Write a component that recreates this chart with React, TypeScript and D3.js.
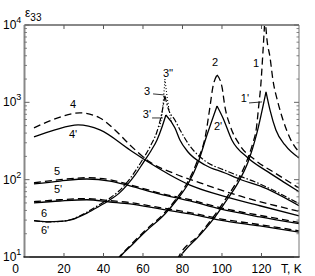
import React from "react";
import * as d3 from "d3";

type P = [number, number];

const W = 315;
const H = 276;
const PLOT = { left: 24.5, right: 299, top: 25, bottom: 257 };

const T_DOMAIN: [number, number] = [0, 139];
const EPS_DOMAIN: [number, number] = [10, 10000];
const xTickValues = [0, 20, 40, 60, 80, 100, 120];
const yDecades = [10, 100, 1000, 10000];
const yDecadeExps = ["1", "2", "3", "4"];

// curve 1 (dashed) and 1' (solid)
const c1Dashed: P[] = [[77.3, 9.2], [78, 10], [88.5, 19.5], [96, 34], [102, 57], [107.6, 95], [112.7, 178], [115.5, 290], [117.5, 480], [118.6, 900], [119.6, 1600], [120.7, 4300], [121.8, 13000], [122.8, 6410], [124.3, 3860], [125.8, 1950], [128.4, 982], [130.9, 592], [134.4, 346], [139, 228]];
const c1Solid: P[] = [[77.8, 9.2], [78.7, 10], [88.9, 19.3], [96.5, 33], [102.5, 55], [108.1, 91], [113.2, 169], [117.7, 402], [122.3, 1365], [124.3, 798], [127.3, 440], [131.9, 281], [139, 191]];
// curve 2 (dashed) and 2' (solid)
const c2Dashed: P[] = [[47, 9.3], [48, 10], [54, 14.5], [60.7, 21.5], [70.8, 37], [76.9, 57], [82.5, 92], [87.4, 172], [91.8, 390], [93.9, 871], [95.4, 1580], [97.5, 2260], [100, 1580], [101.5, 871], [104, 510], [109, 281], [116.7, 180], [126.8, 122], [139, 78]];
const c2Solid: P[] = [[47.5, 9.3], [48.4, 10], [54.4, 14.3], [61, 21], [71.1, 36], [77.2, 55], [82.8, 88], [87.8, 164], [92.4, 378], [97.5, 898], [100.5, 628], [105, 326], [113.2, 191], [123.3, 126], [131.9, 91], [139, 70]];
// curve 3 (dash-dot), 3' (solid, = 6' at low T), 3'' (dotted)
const c3Dashed: P[] = [[4.8, 29.5], [11.4, 28.5], [18, 28.8], [24, 30.8], [31.6, 38], [37, 46], [43.3, 58], [48, 72], [51.9, 92], [56, 128], [60, 185], [64, 280], [67.1, 420], [69.5, 720], [71.1, 1211], [73, 800], [76, 600], [79, 430], [83, 290], [91.4, 175], [101.5, 132], [119.2, 88], [139, 49]];
const c3Solid: P[] = [[4.8, 29.5], [11.4, 28.5], [18, 28.8], [24, 30.5], [31.6, 37], [37, 44], [43.3, 55], [48, 67], [51.9, 85], [56, 115], [60, 164], [64, 235], [67.1, 326], [69.5, 470], [71.6, 687], [76.2, 467], [78.7, 326], [82.8, 228], [91.4, 155], [101.5, 122], [110, 99], [119.2, 83], [139, 46]];
const c3Dotted: P[] = [[68.5, 480], [69.6, 700], [70.5, 1200], [71.1, 2000], [72, 1300], [73.2, 800], [74.5, 560]];
// curve 4 (dashed) and 4' (solid)
const c4Dashed: P[] = [[4.8, 467], [15.4, 610], [28.1, 730], [38.2, 628], [45.8, 440], [53.4, 281], [63.5, 169], [76.2, 119], [88.9, 91], [109.1, 61.5], [139, 39]];
const c4Solid: P[] = [[4.8, 357], [15.4, 440], [27.1, 510], [38.2, 440], [53.4, 242], [63.5, 164], [73.7, 115], [83.8, 85], [99, 63], [119.2, 46], [139, 34]];
// curve 5 (dashed) and 5' (solid)
const c5Dashed: P[] = [[4.8, 91], [18, 100], [31.6, 106], [43.3, 100], [53.4, 86], [68.6, 67], [83.8, 55], [99, 43.5], [119.2, 34.5], [139, 28]];
const c5Solid: P[] = [[4.8, 88], [18, 96], [31.6, 102], [43.3, 96], [53.4, 83], [68.6, 65], [83.8, 53], [99, 41.8], [119.2, 33], [139, 27]];
// curve 6 (dashed and solid)
const c6Dashed: P[] = [[4.8, 52], [18, 55], [31.6, 57], [43.3, 53.5], [53.4, 50.5], [68.6, 43.5], [83.8, 37.5], [99, 31.2], [119.2, 26.2], [139, 21.8]];
const c6Solid: P[] = [[4.8, 50], [18, 53], [31.6, 55], [43.3, 51.4], [53.4, 48.5], [68.6, 41.8], [83.8, 36], [99, 30], [119.2, 25.2], [139, 21]];

const curveLabels: { text: string; t: number; e: number }[] = [
  { text: "4", t: 24.6, e: 847 },
  { text: "4'", t: 24.6, e: 346 },
  { text: "5", t: 16.5, e: 115 },
  { text: "5'", t: 17, e: 67 },
  { text: "6", t: 9.9, e: 33 },
  { text: "6'", t: 10.4, e: 19.9 },
  { text: "3''", t: 72.7, e: 2133 },
  { text: "3", t: 62, e: 1248 },
  { text: "3'", t: 62, e: 628 },
  { text: "2", t: 96.5, e: 2960 },
  { text: "2'", t: 98, e: 440 },
  { text: "1", t: 117.2, e: 2870 },
  { text: "1'", t: 111.6, e: 1012 },
];
const leaders: [P, P][] = [
  [[65.1, 1285], [70.7, 1248]],
  [[64.6, 628], [70.1, 628]],
  [[113.7, 982], [120.3, 1012]],
];

const FONT = "'Liberation Sans', Arial, Helvetica, sans-serif";

export default function App() {
  const x = d3.scaleLinear().domain(T_DOMAIN).range([PLOT.left, PLOT.right]);
  const y = d3.scaleLog().domain(EPS_DOMAIN).range([PLOT.bottom, PLOT.top]);
  const line = d3
    .line<P>()
    .x((d) => x(d[0]))
    .y((d) => y(d[1]))
    .curve(d3.curveMonotoneX);

  // split at the global maximum so that peaks stay cusps
  const pathOf = (pts: P[], cusp: boolean) => {
    if (!cusp) return line(pts) || "";
    let im = 0;
    pts.forEach((p, i) => {
      if (p[1] > pts[im][1]) im = i;
    });
    return (line(pts.slice(0, im + 1)) || "") + (line(pts.slice(im)) || "");
  };

  const series: { pts: P[]; dash: string; cusp: boolean; w: number }[] = [
    { pts: c6Dashed, dash: "7,4", cusp: false, w: 1.3 },
    { pts: c6Solid, dash: "", cusp: false, w: 1.3 },
    { pts: c5Dashed, dash: "7,4", cusp: false, w: 1.3 },
    { pts: c5Solid, dash: "", cusp: false, w: 1.3 },
    { pts: c4Dashed, dash: "7,4", cusp: false, w: 1.3 },
    { pts: c4Solid, dash: "", cusp: false, w: 1.3 },
    { pts: c3Dashed, dash: "6,2,1.5,2", cusp: true, w: 1.2 },
    { pts: c3Solid, dash: "", cusp: true, w: 1.3 },
    { pts: c3Dotted, dash: "1,2", cusp: true, w: 1.1 },
    { pts: c2Dashed, dash: "7,4", cusp: true, w: 1.3 },
    { pts: c2Solid, dash: "", cusp: true, w: 1.3 },
    { pts: c1Dashed, dash: "7,4", cusp: true, w: 1.3 },
    { pts: c1Solid, dash: "", cusp: true, w: 1.3 },
  ];

  const minorTicks: number[] = [];
  yDecades.slice(0, -1).forEach((d) => {
    for (let k = 2; k <= 9; k++) minorTicks.push(d * k);
  });

  return (
    <svg
      width={W}
      height={H}
      style={{ position: "absolute", left: 0, top: 0, background: "#fff" }}
      fontFamily={FONT}
    >
      <defs>
        <clipPath id="plotclip">
          <rect x={PLOT.left} y={PLOT.top} width={PLOT.right - PLOT.left} height={PLOT.bottom - PLOT.top} />
        </clipPath>
      </defs>
      <rect width={W} height={H} fill="#fff" />
      {/* curves */}
      <g clipPath="url(#plotclip)" fill="none" stroke="#000">
        {series.map((s, i) => (
          <path key={i} d={pathOf(s.pts, s.cusp)} strokeWidth={s.w} strokeDasharray={s.dash || undefined} />
        ))}
      </g>
      {/* frame */}
      <line x1={PLOT.left} x2={PLOT.right} y1={PLOT.top} y2={PLOT.top} stroke="#888" strokeWidth={2} />
      <line x1={PLOT.left} x2={PLOT.left} y1={PLOT.top} y2={PLOT.bottom} stroke="#888" strokeWidth={2} />
      <line x1={PLOT.right} x2={PLOT.right} y1={PLOT.top} y2={PLOT.bottom} stroke="#777" strokeWidth={1} />
      <line x1={PLOT.left - 1} x2={PLOT.right + 0.5} y1={PLOT.bottom} y2={PLOT.bottom} stroke="#000" strokeWidth={1.5} />
      {/* x ticks */}
      {xTickValues.slice(1).map((t) => (
        <g key={t} stroke="#555" strokeWidth={1}>
          <line x1={x(t)} x2={x(t)} y1={PLOT.bottom} y2={PLOT.bottom - 4} />
          <line x1={x(t)} x2={x(t)} y1={PLOT.top} y2={PLOT.top + 4} />
        </g>
      ))}
      {xTickValues.map((t) => (
        <text key={t} x={t === 0 ? x(t) - 9 : x(t)} y={273} fontSize={12} textAnchor="middle" fill="#000">
          {t}
        </text>
      ))}
      <text x={281} y={273} fontSize={12} fill="#000">T, K</text>
      {/* y ticks */}
      {yDecades.map((d, i) => (
        <g key={d}>
          <line x1={PLOT.left} x2={PLOT.left + 5} y1={y(d)} y2={y(d)} stroke="#666" />
          <line x1={PLOT.right} x2={PLOT.right - 5} y1={y(d)} y2={y(d)} stroke="#666" />
          <text x={3} y={y(d) + 4} fontSize={12} fill="#000">
            10
            <tspan fontSize={9} dy={-6}>{yDecadeExps[i]}</tspan>
          </text>
        </g>
      ))}
      {minorTicks.map((v) => (
        <g key={v} stroke="#666" strokeWidth={0.8}>
          <line x1={PLOT.left} x2={PLOT.left + 2.5} y1={y(v)} y2={y(v)} />
          <line x1={PLOT.right} x2={PLOT.right - 2.5} y1={y(v)} y2={y(v)} />
        </g>
      ))}
      {/* y title */}
      <text x={25} y={17} fontSize={12} fill="#000">
        ε<tspan fontSize={10} dy={4}>33</tspan>
      </text>
      {/* curve labels */}
      {curveLabels.map((l, i) => (
        <text key={i} x={x(l.t)} y={y(l.e)} fontSize={11} textAnchor="middle" fill="#000">
          {l.text}
        </text>
      ))}
      {leaders.map((ld, i) => (
        <line key={i} x1={x(ld[0][0])} y1={y(ld[0][1])} x2={x(ld[1][0])} y2={y(ld[1][1])} stroke="#000" strokeWidth={0.8} />
      ))}
    </svg>
  );
}
